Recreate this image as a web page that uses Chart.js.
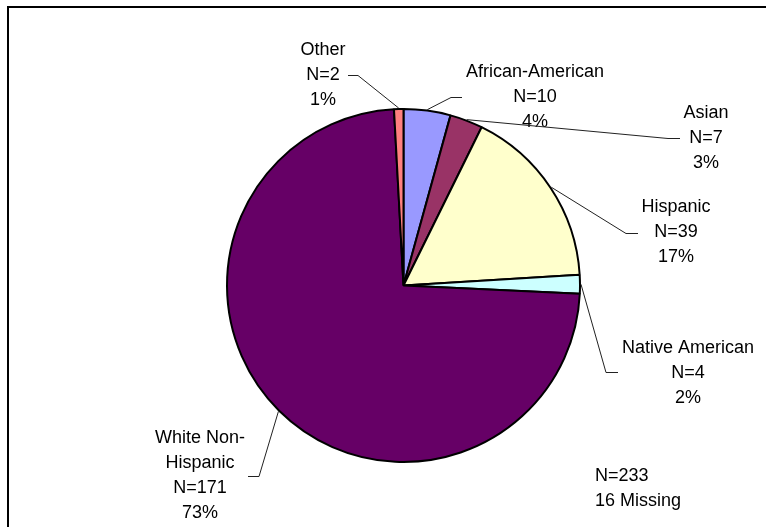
<!DOCTYPE html>
<html>
<head>
<meta charset="utf-8">
<script src="https://cdn.jsdelivr.net/npm/chart.js@4/dist/chart.umd.min.js"></script>
<style>
  html, body { margin: 0; padding: 0; background: #fff; overflow: hidden; }
  canvas { display: block; }
</style>
</head>
<body>
<canvas id="c" width="766" height="527"></canvas>
<script>
// ---- data ----
const categories = ['African-American', 'Asian', 'Hispanic', 'Native American', 'White Non-Hispanic', 'Other'];
const nameLines = [['African-American'], ['Asian'], ['Hispanic'], ['Native American'], ['White Non-', 'Hispanic'], ['Other']];
const counts = [10, 7, 39, 4, 171, 2];
const totalN = 233;
const missingN = 16;
const sliceColors = ['#9999FF', '#993366', '#FFFFCC', '#CCFFFF', '#660066', '#FF8080'];

// ---- label layout (text center x, first line center y, elbow point, line end) ----
const labelLayout = [
  { cx: 535, y0: 72,  elbow: [451, 97],  end: [462, 97] },
  { cx: 706, y0: 113, elbow: [668, 138], end: [680, 138] },
  { cx: 676, y0: 207, elbow: [626, 233], end: [638, 233] },
  { cx: 688, y0: 348, elbow: [606, 372], end: [618, 372] },
  { cx: 200, y0: 438, elbow: [259, 476], end: [248, 476] },
  { cx: 323, y0: 50,  elbow: [358, 75],  end: [348, 75] }
];
const FONT = '18px "Liberation Sans", Arial, sans-serif';
const LINE_H = 25;

const total = counts.reduce((a, b) => a + b, 0);

const framePlugin = {
  id: 'frame',
  beforeDraw(chart) {
    const ctx = chart.ctx;
    ctx.save();
    ctx.fillStyle = '#fff';
    ctx.fillRect(0, 0, chart.width, chart.height);
    ctx.strokeStyle = '#000';
    ctx.lineWidth = 2;
    ctx.beginPath();
    ctx.moveTo(8, chart.height + 2);
    ctx.lineTo(8, 7);
    ctx.lineTo(chart.width + 2, 7);
    ctx.stroke();
    ctx.restore();
  }
};

const labelPlugin = {
  id: 'pieLabels',
  afterDatasetsDraw(chart) {
    const ctx = chart.ctx;
    const meta = chart.getDatasetMeta(0);
    ctx.save();
    ctx.font = FONT;
    ctx.fillStyle = '#000';
    ctx.textAlign = 'center';
    ctx.textBaseline = 'middle';
    meta.data.forEach((arc, i) => {
      const p = arc.getProps(['x', 'y', 'startAngle', 'endAngle', 'outerRadius'], true);
      const mid = (p.startAngle + p.endAngle) / 2;
      const ax = p.x + Math.cos(mid) * (p.outerRadius + 1);
      const ay = p.y + Math.sin(mid) * (p.outerRadius + 1);
      const L = labelLayout[i];
      ctx.strokeStyle = '#222';
      ctx.lineWidth = 1;
      ctx.beginPath();
      ctx.moveTo(ax, ay);
      ctx.lineTo(L.elbow[0], L.elbow[1] + 0.5);
      ctx.lineTo(L.end[0], L.end[1] + 0.5);
      ctx.stroke();
      const pct = Math.round(counts[i] / total * 100) + '%';
      const lines = nameLines[i].concat(['N=' + counts[i], pct]);
      lines.forEach((t, k) => ctx.fillText(t, L.cx, L.y0 + k * LINE_H));
    });
    ctx.textAlign = 'left';
    ctx.fillText('N=' + totalN, 595, 476);
    ctx.fillText(missingN + ' Missing', 595, 501);
    ctx.restore();
  }
};

new Chart(document.getElementById('c'), {
  type: 'pie',
  data: {
    labels: categories,
    datasets: [{
      data: counts,
      backgroundColor: sliceColors,
      borderColor: '#000',
      borderWidth: 2
    }]
  },
  options: {
    responsive: false,
    animation: false,
    layout: { padding: { left: 150, right: 109, top: 108, bottom: 64 } },
    plugins: { legend: { display: false }, tooltip: { enabled: false } }
  },
  plugins: [framePlugin, labelPlugin]
});
</script>
</body>
</html>
